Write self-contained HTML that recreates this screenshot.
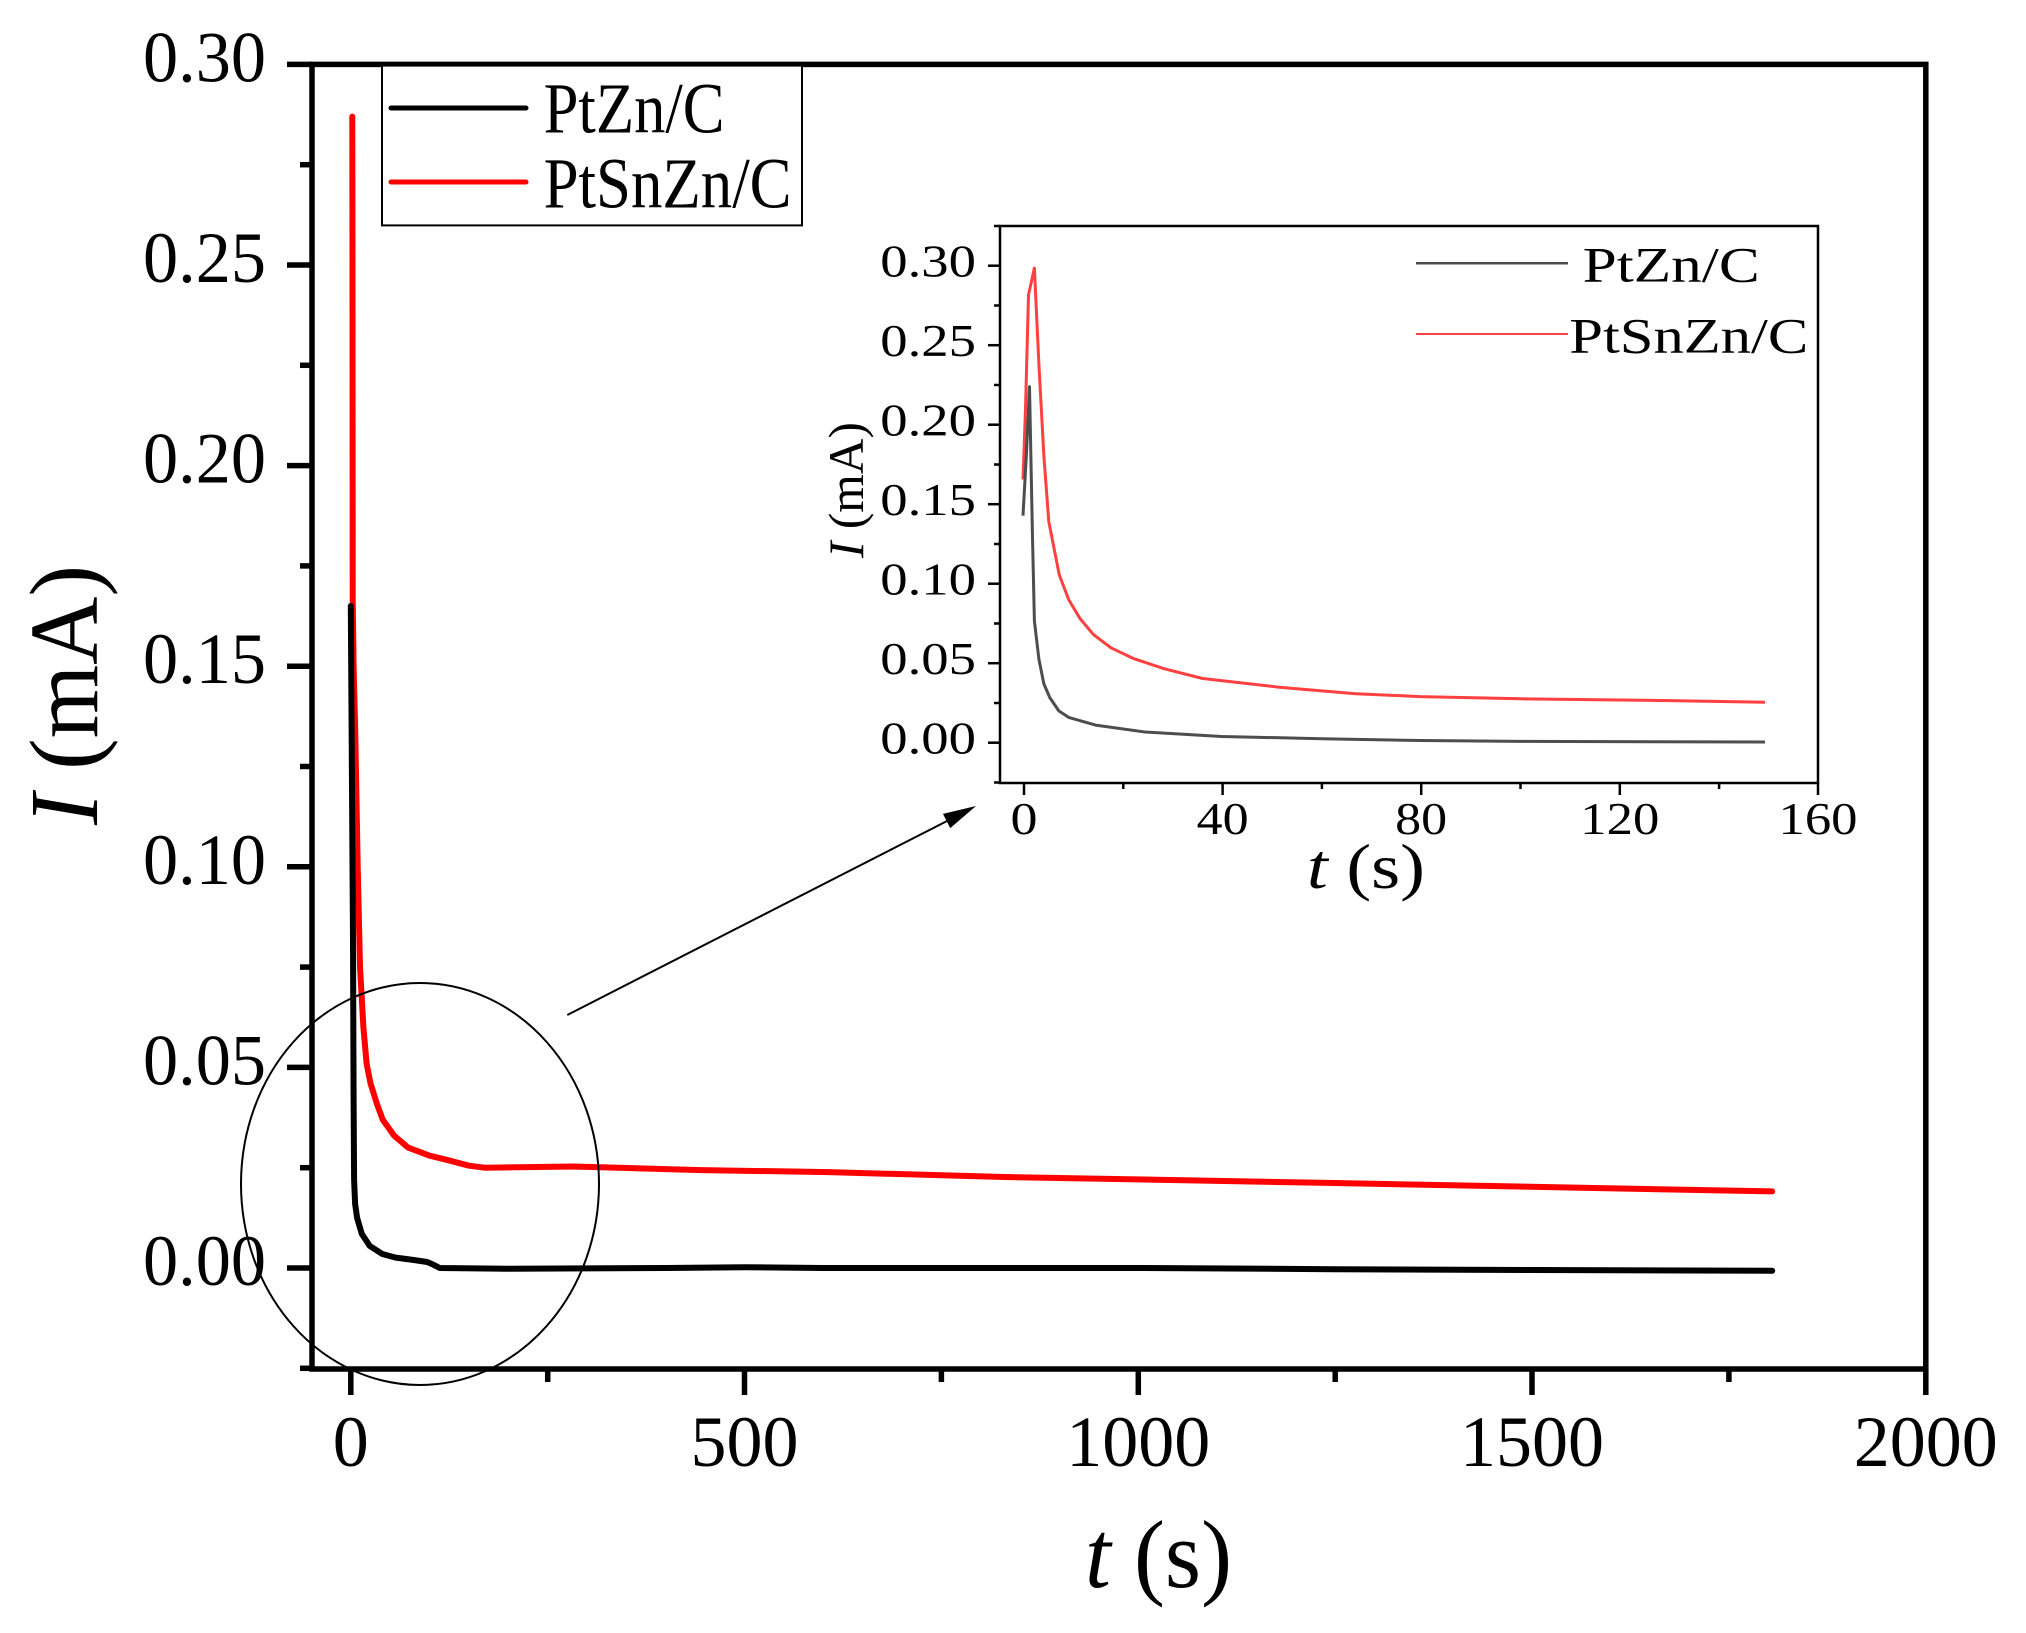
<!DOCTYPE html>
<html>
<head>
<meta charset="utf-8">
<style>
html,body{margin:0;padding:0;background:#fff;}
svg{display:block;}
text{font-family:"Liberation Serif","Times New Roman",serif;fill:#000;}
</style>
</head>
<body>
<svg width="2026" height="1633" viewBox="0 0 2026 1633" xmlns="http://www.w3.org/2000/svg">
<rect x="0" y="0" width="2026" height="1633" fill="#fff"/>

<!-- ===== MAIN PLOT ===== -->
<!-- curves -->
<polyline fill="none" stroke="#ff0000" stroke-width="6" stroke-linejoin="round" stroke-linecap="round"
points="352.3,116.6 352.5,265 352.7,600 353.6,666.2 355.3,734.4 357.7,866.8 360.0,967.1 363.4,1027.3 366.6,1063.4 370.5,1083.4 376.8,1103.5 382.7,1119.6 394.1,1135.6 408.1,1147.6 429.6,1155.7 446.1,1159.7 468.9,1165.7 484.7,1167.7 573.7,1166.5 701.2,1170.1 828.8,1172.1 999.7,1176.9 1327.3,1182.9 1772.2,1191.4"/>
<polyline fill="none" stroke="#000" stroke-width="6" stroke-linejoin="round" stroke-linecap="round"
points="350.8,606 352,786.6 353,939 353.6,1099.5 354.1,1179.7 355.1,1203.8 357.1,1217.9 361.8,1233.9 369.7,1245.9 382.3,1254 395.7,1257.6 413.8,1260 427.2,1262 433.5,1264.8 439.8,1268 508.3,1268.8 665.8,1268 744.6,1267.2 823.3,1268 1138.3,1268 1335.2,1269.2 1532,1270 1772.2,1270.8"/>

<!-- axes frame -->
<rect x="312" y="64.4" width="1613.8" height="1304.6" fill="none" stroke="#000" stroke-width="5.5"/>

<!-- y ticks major -->
<g stroke="#000" stroke-width="5.5">
<line x1="287" y1="64.4" x2="312" y2="64.4"/>
<line x1="287" y1="265" x2="312" y2="265"/>
<line x1="287" y1="465.6" x2="312" y2="465.6"/>
<line x1="287" y1="666.2" x2="312" y2="666.2"/>
<line x1="287" y1="866.8" x2="312" y2="866.8"/>
<line x1="287" y1="1067.4" x2="312" y2="1067.4"/>
<line x1="287" y1="1268" x2="312" y2="1268"/>
<!-- y minor -->
<line x1="300" y1="164.7" x2="312" y2="164.7"/>
<line x1="300" y1="365.3" x2="312" y2="365.3"/>
<line x1="300" y1="565.9" x2="312" y2="565.9"/>
<line x1="300" y1="766.5" x2="312" y2="766.5"/>
<line x1="300" y1="967.1" x2="312" y2="967.1"/>
<line x1="300" y1="1167.7" x2="312" y2="1167.7"/>
<line x1="300" y1="1368.3" x2="312" y2="1368.3"/>
<!-- x ticks major -->
<line x1="350.8" y1="1369" x2="350.8" y2="1395"/>
<line x1="744.5" y1="1369" x2="744.5" y2="1395"/>
<line x1="1138.3" y1="1369" x2="1138.3" y2="1395"/>
<line x1="1532" y1="1369" x2="1532" y2="1395"/>
<line x1="1925.8" y1="1369" x2="1925.8" y2="1395"/>
<!-- x minor -->
<line x1="547.7" y1="1369" x2="547.7" y2="1382"/>
<line x1="941.4" y1="1369" x2="941.4" y2="1382"/>
<line x1="1335.2" y1="1369" x2="1335.2" y2="1382"/>
<line x1="1728.9" y1="1369" x2="1728.9" y2="1382"/>
</g>

<!-- y tick labels -->
<g font-size="72" text-anchor="end">
<text x="266" y="81.4" textLength="123" lengthAdjust="spacingAndGlyphs">0.30</text>
<text x="266" y="282" textLength="123" lengthAdjust="spacingAndGlyphs">0.25</text>
<text x="266" y="482.6" textLength="123" lengthAdjust="spacingAndGlyphs">0.20</text>
<text x="266" y="683.2" textLength="123" lengthAdjust="spacingAndGlyphs">0.15</text>
<text x="266" y="883.8" textLength="123" lengthAdjust="spacingAndGlyphs">0.10</text>
<text x="266" y="1084.4" textLength="123" lengthAdjust="spacingAndGlyphs">0.05</text>
<text x="266" y="1285" textLength="123" lengthAdjust="spacingAndGlyphs">0.00</text>
</g>
<!-- x tick labels -->
<g font-size="72" text-anchor="middle">
<text x="350.8" y="1466">0</text>
<text x="744.5" y="1466">500</text>
<text x="1138.3" y="1466">1000</text>
<text x="1532" y="1466">1500</text>
<text x="1925.8" y="1466">2000</text>
</g>

<!-- axis titles -->
<text x="1085" y="1587" font-size="96" textLength="147" lengthAdjust="spacingAndGlyphs"><tspan font-style="italic">t</tspan> (s)</text>
<text transform="translate(97,825) rotate(-90)" font-size="98" textLength="260" lengthAdjust="spacingAndGlyphs"><tspan font-style="italic">I</tspan> (mA)</text>

<!-- legend -->
<rect x="382" y="65.6" width="420" height="159.8" fill="#fff" stroke="#000" stroke-width="2"/>
<line x1="391" y1="108" x2="526" y2="108" stroke="#000" stroke-width="5" stroke-linecap="round"/>
<line x1="391" y1="182" x2="526" y2="182" stroke="#ff0000" stroke-width="5" stroke-linecap="round"/>
<text x="543.6" y="132.6" font-size="72" textLength="181" lengthAdjust="spacingAndGlyphs">PtZn/C</text>
<text x="543.6" y="207.6" font-size="72" textLength="248" lengthAdjust="spacingAndGlyphs">PtSnZn/C</text>

<!-- ellipse + arrow -->
<ellipse cx="420" cy="1184" rx="179" ry="201" fill="none" stroke="#000" stroke-width="2"/>
<line x1="567.3" y1="1015" x2="950" y2="819.5" stroke="#000" stroke-width="2"/>
<polygon points="976,806 950.2,828.1 943,813.9" fill="#000"/>

<!-- ===== INSET ===== -->
<polyline fill="none" stroke="#ff4040" stroke-width="3" stroke-linejoin="round"
points="1023,479.5 1025.5,408.8 1028.5,295.1 1034.4,268.1 1038.9,364.3 1043.9,456.5 1048.8,521.7 1059.3,575 1068.7,599.6 1080.1,618.7 1093.5,634.6 1110.9,647.8 1133.2,658.4 1164.5,668.8 1202.7,678.5 1279.2,687.2 1355.7,693.7 1420.2,696.6 1520.5,698.8 1669.5,700.6 1765,702.3"/>
<polyline fill="none" stroke="#4d4d4d" stroke-width="3" stroke-linejoin="round"
points="1023,515.7 1026.5,452.5 1029.5,386.7 1032.4,532.8 1034.4,621.1 1038.9,659.2 1043.9,683.9 1049.8,697.6 1058.8,710.9 1068.7,717.4 1095.5,725.1 1145.1,732.0 1221.6,736.5 1321.9,738.7 1420.2,740.5 1520.5,741.4 1765,742"/>

<rect x="1000" y="226" width="818" height="557" fill="none" stroke="#000" stroke-width="2.5"/>

<g stroke="#000" stroke-width="2.5">
<line x1="988" y1="265.7" x2="1000" y2="265.7"/>
<line x1="988" y1="345.2" x2="1000" y2="345.2"/>
<line x1="988" y1="424.7" x2="1000" y2="424.7"/>
<line x1="988" y1="504.2" x2="1000" y2="504.2"/>
<line x1="988" y1="583.7" x2="1000" y2="583.7"/>
<line x1="988" y1="663.2" x2="1000" y2="663.2"/>
<line x1="988" y1="742.7" x2="1000" y2="742.7"/>
<line x1="994" y1="226" x2="1000" y2="226"/>
<line x1="994" y1="305.5" x2="1000" y2="305.5"/>
<line x1="994" y1="385" x2="1000" y2="385"/>
<line x1="994" y1="464.5" x2="1000" y2="464.5"/>
<line x1="994" y1="544" x2="1000" y2="544"/>
<line x1="994" y1="623.5" x2="1000" y2="623.5"/>
<line x1="994" y1="703" x2="1000" y2="703"/>
<line x1="994" y1="782.5" x2="1000" y2="782.5"/>
<line x1="1024" y1="783" x2="1024" y2="795"/>
<line x1="1222.6" y1="783" x2="1222.6" y2="795"/>
<line x1="1421.2" y1="783" x2="1421.2" y2="795"/>
<line x1="1619.8" y1="783" x2="1619.8" y2="795"/>
<line x1="1818" y1="783" x2="1818" y2="795"/>
<line x1="1123.3" y1="783" x2="1123.3" y2="789"/>
<line x1="1321.9" y1="783" x2="1321.9" y2="789"/>
<line x1="1520.5" y1="783" x2="1520.5" y2="789"/>
<line x1="1719.1" y1="783" x2="1719.1" y2="789"/>
</g>

<g font-size="45" text-anchor="end">
<text x="976" y="276.7" textLength="95.7" lengthAdjust="spacingAndGlyphs">0.30</text>
<text x="976" y="356.2" textLength="95.7" lengthAdjust="spacingAndGlyphs">0.25</text>
<text x="976" y="435.7" textLength="95.7" lengthAdjust="spacingAndGlyphs">0.20</text>
<text x="976" y="515.2" textLength="95.7" lengthAdjust="spacingAndGlyphs">0.15</text>
<text x="976" y="594.7" textLength="95.7" lengthAdjust="spacingAndGlyphs">0.10</text>
<text x="976" y="674.2" textLength="95.7" lengthAdjust="spacingAndGlyphs">0.05</text>
<text x="976" y="753.7" textLength="95.7" lengthAdjust="spacingAndGlyphs">0.00</text>
</g>
<g font-size="46" text-anchor="middle">
<text x="1024" y="834" textLength="27" lengthAdjust="spacingAndGlyphs">0</text>
<text x="1222.6" y="834" textLength="52" lengthAdjust="spacingAndGlyphs">40</text>
<text x="1421.2" y="834" textLength="52" lengthAdjust="spacingAndGlyphs">80</text>
<text x="1619.8" y="834" textLength="79" lengthAdjust="spacingAndGlyphs">120</text>
<text x="1818" y="834" textLength="79" lengthAdjust="spacingAndGlyphs">160</text>
</g>

<text x="1307" y="888" font-size="64" textLength="118" lengthAdjust="spacingAndGlyphs"><tspan font-style="italic">t</tspan> (s)</text>
<text transform="translate(863,558) rotate(-90)" font-size="50" textLength="136" lengthAdjust="spacingAndGlyphs"><tspan font-style="italic">I</tspan> (mA)</text>

<!-- inset legend -->
<line x1="1416" y1="263.3" x2="1568" y2="263.3" stroke="#4d4d4d" stroke-width="2.5"/>
<line x1="1416" y1="334" x2="1568" y2="334" stroke="#ff4040" stroke-width="2"/>
<text x="1582.7" y="281.7" font-size="50" textLength="177" lengthAdjust="spacingAndGlyphs">PtZn/C</text>
<text x="1569.3" y="352.7" font-size="50" textLength="239" lengthAdjust="spacingAndGlyphs">PtSnZn/C</text>
</svg>
</body>
</html>
